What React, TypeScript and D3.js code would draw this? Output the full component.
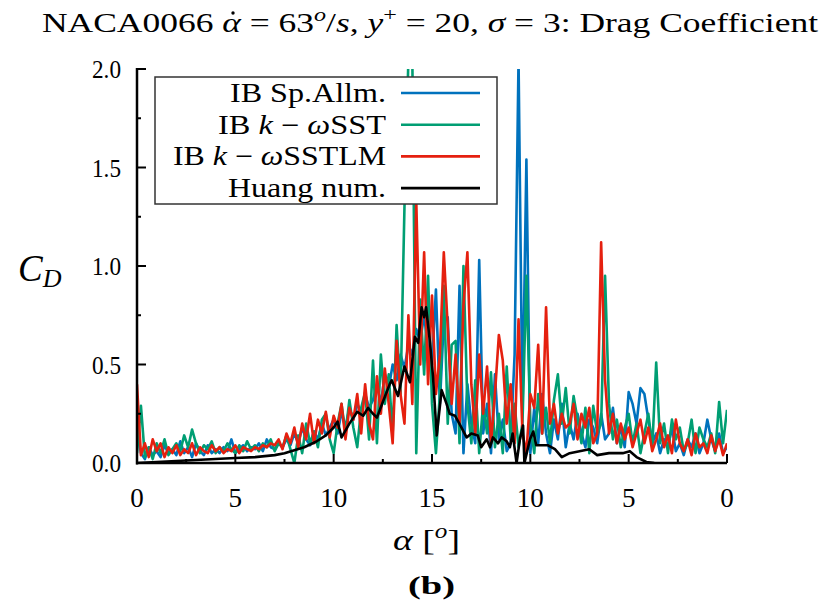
import React from "react";
import * as d3 from "d3";

// sampling step of the IB series along the phase axis (0..30, 15 = max incidence)
const STEP = 0.2;

const spAllm = [
  0.18, 0.05, 0.02, 0.08, 0.04, 0.06, 0.03, 0.09, 0.05, 0.07,
  0.04, 0.11, 0.05, 0.08, 0.03, 0.10, 0.06, 0.04, 0.09, 0.05,
  0.07, 0.05, 0.08, 0.06, 0.12, 0.05, 0.07, 0.09, 0.06, 0.08,
  0.07, 0.10, 0.06, 0.12, 0.08, 0.07, 0.10, 0.08, 0.12, 0.09,
  0.15, 0.10, 0.18, 0.12, 0.09, 0.16, 0.12, 0.20, 0.14, 0.18,
  0.22, 0.15, 0.26, 0.18, 0.28, 0.22, 0.30, 0.26, 0.35, 0.28,
  0.32, 0.40, 0.30, 0.45, 0.38, 0.50, 0.42, 0.55, 0.48, 0.60,
  0.55, 0.68, 0.62, 0.75, 0.58, 0.50, 0.88, 0.30, 0.72, 0.74,
  0.25, 0.15, 0.90, 0.05, 0.40, 0.20, 0.10, 1.03, 0.15, 0.30,
  0.05, 0.45, 0.12, 0.22, 0.06, 0.10, 0.55, 2.05, 0.25, 1.54,
  0.05, 0.28, 0.10, 0.35, 0.15, 0.05, 0.22, 0.12, 0.30, 0.08,
  0.20, 0.12, 0.25, 0.15, 0.08, 0.22, 0.18, 0.10, 0.25, 0.12,
  0.15, 0.28, 0.10, 0.18, 0.08, 0.36, 0.30, 0.20, 0.38, 0.35,
  0.22, 0.10, 0.15, 0.05, 0.12, 0.08, 0.18, 0.06, 0.10, 0.04,
  0.12, 0.08, 0.15, 0.05, 0.10, 0.22, 0.12, 0.06, 0.15, 0.05,
  0.08,
];

const kwSST = [
  0.05, 0.29, 0.03, 0.08, 0.02, 0.10, 0.05, 0.12, 0.04, 0.07,
  0.10, 0.06, 0.14, 0.08, 0.17, 0.10, 0.05, 0.09, 0.07, 0.11,
  0.05, 0.08, 0.06, 0.10, 0.07, 0.05, 0.09, 0.06, 0.11, 0.07,
  0.09, 0.06, 0.10, 0.08, 0.12, 0.06, 0.10, 0.08, 0.14, 0.07,
  0.00, 0.14, 0.05, 0.20, 0.10, 0.16, 0.08, 0.22, 0.25, 0.12,
  0.05, 0.20, 0.30, 0.15, 0.32, 0.18, 0.08, 0.28, 0.36, 0.12,
  0.52, 0.10, 0.55, 0.30, 0.45, 0.15, 0.70, 0.35, 1.30, 2.05,
  2.05, 0.05, 0.83, 0.45, 0.95, 0.30, 0.05, 0.35, 0.90, 0.20,
  0.60, 0.62, 0.10, 1.00, 0.30, 0.10, 0.42, 0.05, 0.30, 0.15,
  0.46, 0.08, 0.25, 0.05, 0.49, 0.12, 0.30, 0.08, 0.20, 0.95,
  0.20, 0.05, 0.35, 0.15, 0.28, 0.10, 0.32, 0.45, 0.20, 0.38,
  0.15, 0.34, 0.22, 0.10, 0.28, 0.05, 0.29, 0.15, 0.20, 0.95,
  0.30, 0.12, 0.22, 0.08, 0.18, 0.25, 0.10, 0.20, 0.05, 0.15,
  0.25, 0.08, 0.51, 0.10, 0.20, 0.05, 0.22, 0.12, 0.18, 0.06,
  0.10, 0.22, 0.05, 0.18, 0.12, 0.08, 0.15, 0.05, 0.31, 0.10,
  0.27,
];

const kwSSTLM = [
  0.40, 0.04, 0.10, 0.03, 0.12, 0.06, 0.10, 0.03, 0.08, 0.05,
  0.09, 0.04, 0.07, 0.05, 0.10, 0.04, 0.08, 0.06, 0.05, 0.09,
  0.06, 0.08, 0.05, 0.07, 0.06, 0.09, 0.05, 0.08, 0.07, 0.06,
  0.08, 0.07, 0.09, 0.08, 0.10, 0.09, 0.12, 0.07, 0.15, 0.10,
  0.18, 0.08, 0.20, 0.12, 0.25, 0.10, 0.22, 0.15, 0.26, 0.13,
  0.24, 0.18, 0.30, 0.12, 0.28, 0.22, 0.35, 0.15, 0.40, 0.20,
  0.12, 0.44, 0.25, 0.48, 0.30, 0.10, 0.62, 0.35, 0.20, 0.75,
  0.30, 1.33, 0.50, 1.07, 0.40, 0.85, 0.35, 0.55, 1.07, 0.69,
  0.30, 0.55, 0.20, 0.80, 1.07, 0.40, 0.15, 0.55, 0.25, 0.49,
  0.10, 0.35, 0.65, 0.52, 0.20, 0.40, 0.10, 0.73, 0.15, 0.05,
  0.35, 0.28, 0.60, 0.15, 0.79, 0.20, 0.30, 0.15, 0.25, 0.18,
  0.20, 0.30, 0.12, 0.25, 0.18, 0.28, 0.10, 0.15, 1.12, 0.42,
  0.15, 0.25, 0.10, 0.20, 0.12, 0.18, 0.08, 0.15, 0.22, 0.10,
  0.18, 0.06, 0.12, 0.20, 0.08, 0.14, 0.05, 0.22, 0.10, 0.06,
  0.12, 0.04, 0.15, 0.08, 0.10, 0.05, 0.14, 0.06, 0.12, 0.04,
  0.10,
];

const huangX = [
  0, 1, 2, 3, 4, 5, 6, 7, 7.5, 8, 8.5, 9.1, 9.6, 10.0, 10.2, 10.4, 10.8, 11.2,
  11.5, 11.75, 12.0, 12.2, 12.5, 12.85, 12.95, 13.27, 13.6, 13.88, 14.13, 14.3,
  14.47, 14.6, 14.7, 14.9, 15.05, 15.24, 15.49, 15.74, 15.9, 16.17, 16.5, 16.76,
  17.0, 17.33, 17.5, 17.78, 17.95, 18.1, 18.36, 18.54, 18.8, 18.96, 19.1, 19.3,
  19.47, 19.63, 19.7, 19.98, 20.15, 20.3, 20.6, 20.9, 21.25, 21.6, 22.0, 22.5,
  23.0, 23.4, 24.0, 24.7, 25.06, 25.4, 25.9, 26.3,
];
const huangCd = [
  0, 0.005, 0.01, 0.015, 0.02, 0.025, 0.03, 0.04, 0.05, 0.065, 0.08, 0.108, 0.14,
  0.18, 0.21, 0.13, 0.2, 0.26, 0.24, 0.28, 0.25, 0.23, 0.31, 0.4, 0.42, 0.34,
  0.49, 0.41, 0.64, 0.61, 0.79, 0.74, 0.79, 0.61, 0.44, 0.14, 0.37, 0.3, 0.25,
  0.24, 0.18, 0.13, 0.15, 0.14, 0.08, 0.12, 0.08, 0.13, 0.1, 0.13, 0.11, 0.08,
  0.15, 0.0, 0.12, 0.19, 0.0, 0.12, 0.16, 0.09, 0.09, 0.09, 0.07, 0.03, 0.05,
  0.06, 0.07, 0.04, 0.05, 0.05, 0.06, 0.03, 0.005, 0,
];

const xTickVals = [0, 5, 10, 15, 20, 25, 30];
const xTickLabels = ["0", "5", "10", "15", "10", "5", "0"];
const yTickVals = [0, 0.5, 1.0, 1.5, 2.0];
const yTickLabels = ["0.0", "0.5", "1.0", "1.5", "2.0"];

const FONT = "'Liberation Serif', 'Times New Roman', serif";
const BLUE = "#0072bd";
const GREEN = "#009e73";
const RED = "#e5200f";

export default function App() {
  const left = 137, right = 727, top = 69, bottom = 463;
  const x = d3.scaleLinear().domain([0, 30]).range([left, right]);
  const y = d3.scaleLinear().domain([0, 2]).range([bottom, top]);

  const lineIdx = d3
    .line<number>()
    .x((_, i) => x(i * STEP))
    .y((d) => y(d));
  const lineH = d3
    .line<number>()
    .x((_, i) => x(huangX[i]))
    .y((d) => y(d));

  const minorX = d3.range(0, 30.01, 2.5);
  const minorY = d3.range(0, 2.01, 0.25);

  const series = [
    { data: spAllm, color: BLUE },
    { data: kwSST, color: GREEN },
    { data: kwSSTLM, color: RED },
  ];

  const legend = [
    { label: [{ t: "IB Sp.Allm." }], color: BLUE, w: 156 },
    { label: [{ t: "IB " }, { t: "k", i: true }, { t: " − " }, { t: "ω", i: true }, { t: "SST" }], color: GREEN, w: 168 },
    { label: [{ t: "IB " }, { t: "k", i: true }, { t: " − " }, { t: "ω", i: true }, { t: "SSTLM" }], color: RED, w: 213 },
    { label: [{ t: "Huang num." }], color: "#000", w: 158 },
  ];

  return (
    <svg
      width={822}
      height={604}
      style={{ position: "absolute", left: 0, top: 0, background: "#fff" }}
      fontFamily={FONT}
    >
      <defs>
        <clipPath id="plotclip">
          <rect x={left} y={top} width={right - left} height={bottom - top} />
        </clipPath>
      </defs>

      {/* title */}
      <text x={42} y={32} fontSize={28} textLength={776} lengthAdjust="spacingAndGlyphs" fill="#000">
        <tspan>NACA0066 </tspan>
        <tspan fontStyle="italic">α</tspan>
        <tspan> = 63</tspan>
        <tspan fontStyle="italic" fontSize={19} dy={-11}>o</tspan>
        <tspan dy={11}>/</tspan>
        <tspan fontStyle="italic">s</tspan>
        <tspan>,  </tspan>
        <tspan fontStyle="italic">y</tspan>
        <tspan fontSize={19} dy={-11}>+</tspan>
        <tspan dy={11}> = 20,  </tspan>
        <tspan fontStyle="italic">σ</tspan>
        <tspan> = 3: Drag Coefficient</tspan>
      </text>
      <circle cx={233} cy={13} r={1.7} fill="#000" />

      {/* series */}
      <g clipPath="url(#plotclip)">
        {series.map((s, k) => (
          <path
            key={k}
            d={lineIdx(s.data) || ""}
            fill="none"
            stroke={s.color}
            strokeWidth={2.6}
            strokeLinejoin="round"
          />
        ))}
        <path
          d={lineH(huangCd) || ""}
          fill="none"
          stroke="#000"
          strokeWidth={2.6}
          strokeLinejoin="round"
        />
      </g>

      {/* axes */}
      <line x1={left} x2={left} y1={top - 1} y2={bottom + 1.5} stroke="#000" strokeWidth={2.5} />
      <line x1={left - 1} x2={right} y1={bottom} y2={bottom} stroke="#000" strokeWidth={2.5} />
      {minorY.map((v, i) => {
        const major = Math.abs(v * 2 - Math.round(v * 2)) < 1e-6;
        return (
          <line key={"yt" + i} x1={left} x2={left + (major ? 9 : 4)} y1={y(v)} y2={y(v)} stroke="#000" strokeWidth={2} />
        );
      })}
      {minorX.map((v, i) => {
        const major = Math.abs(v / 5 - Math.round(v / 5)) < 1e-6;
        return (
          <line key={"xt" + i} x1={x(v)} x2={x(v)} y1={bottom} y2={bottom - (major ? 9 : 4)} stroke="#000" strokeWidth={2} />
        );
      })}
      {yTickVals.map((v, i) => (
        <text key={"yl" + i} x={121} y={y(v) + 9} fontSize={26} textAnchor="end" textLength={29} lengthAdjust="spacingAndGlyphs">
          {yTickLabels[i]}
        </text>
      ))}
      {xTickVals.map((v, i) => (
        <text key={"xl" + i} x={x(v)} y={507} fontSize={27} textAnchor="middle">
          {xTickLabels[i]}
        </text>
      ))}

      {/* axis labels */}
      <text x={18} y={281} fontSize={37} fontStyle="italic">
        <tspan>C</tspan>
        <tspan fontSize={26} dy={6}>D</tspan>
      </text>
      <text x={393} y={550} fontSize={30} textLength={67} lengthAdjust="spacingAndGlyphs">
        <tspan fontStyle="italic">α</tspan>
        <tspan> [</tspan>
        <tspan fontStyle="italic" fontSize={20} dy={-12}>o</tspan>
        <tspan dy={12}>]</tspan>
      </text>
      <text x={408} y={594} fontSize={25} fontWeight="bold" textLength={47} lengthAdjust="spacingAndGlyphs">
        (b)
      </text>

      {/* legend */}
      <rect x={155} y={77} width={342} height={127} fill="#fff" stroke="#333" strokeWidth={1.5} />
      {legend.map((e, i) => {
        const cy = 93 + i * 31.7;
        return (
          <g key={"lg" + i}>
            <text x={386} y={cy + 9} fontSize={27} textAnchor="end" textLength={e.w} lengthAdjust="spacingAndGlyphs">
              {e.label.map((p: any, j: number) => (
                <tspan key={j} fontStyle={p.i ? "italic" : "normal"}>
                  {p.t}
                </tspan>
              ))}
            </text>
            <line x1={401} x2={480} y1={cy} y2={cy} stroke={e.color} strokeWidth={2.6} />
          </g>
        );
      })}
    </svg>
  );
}
